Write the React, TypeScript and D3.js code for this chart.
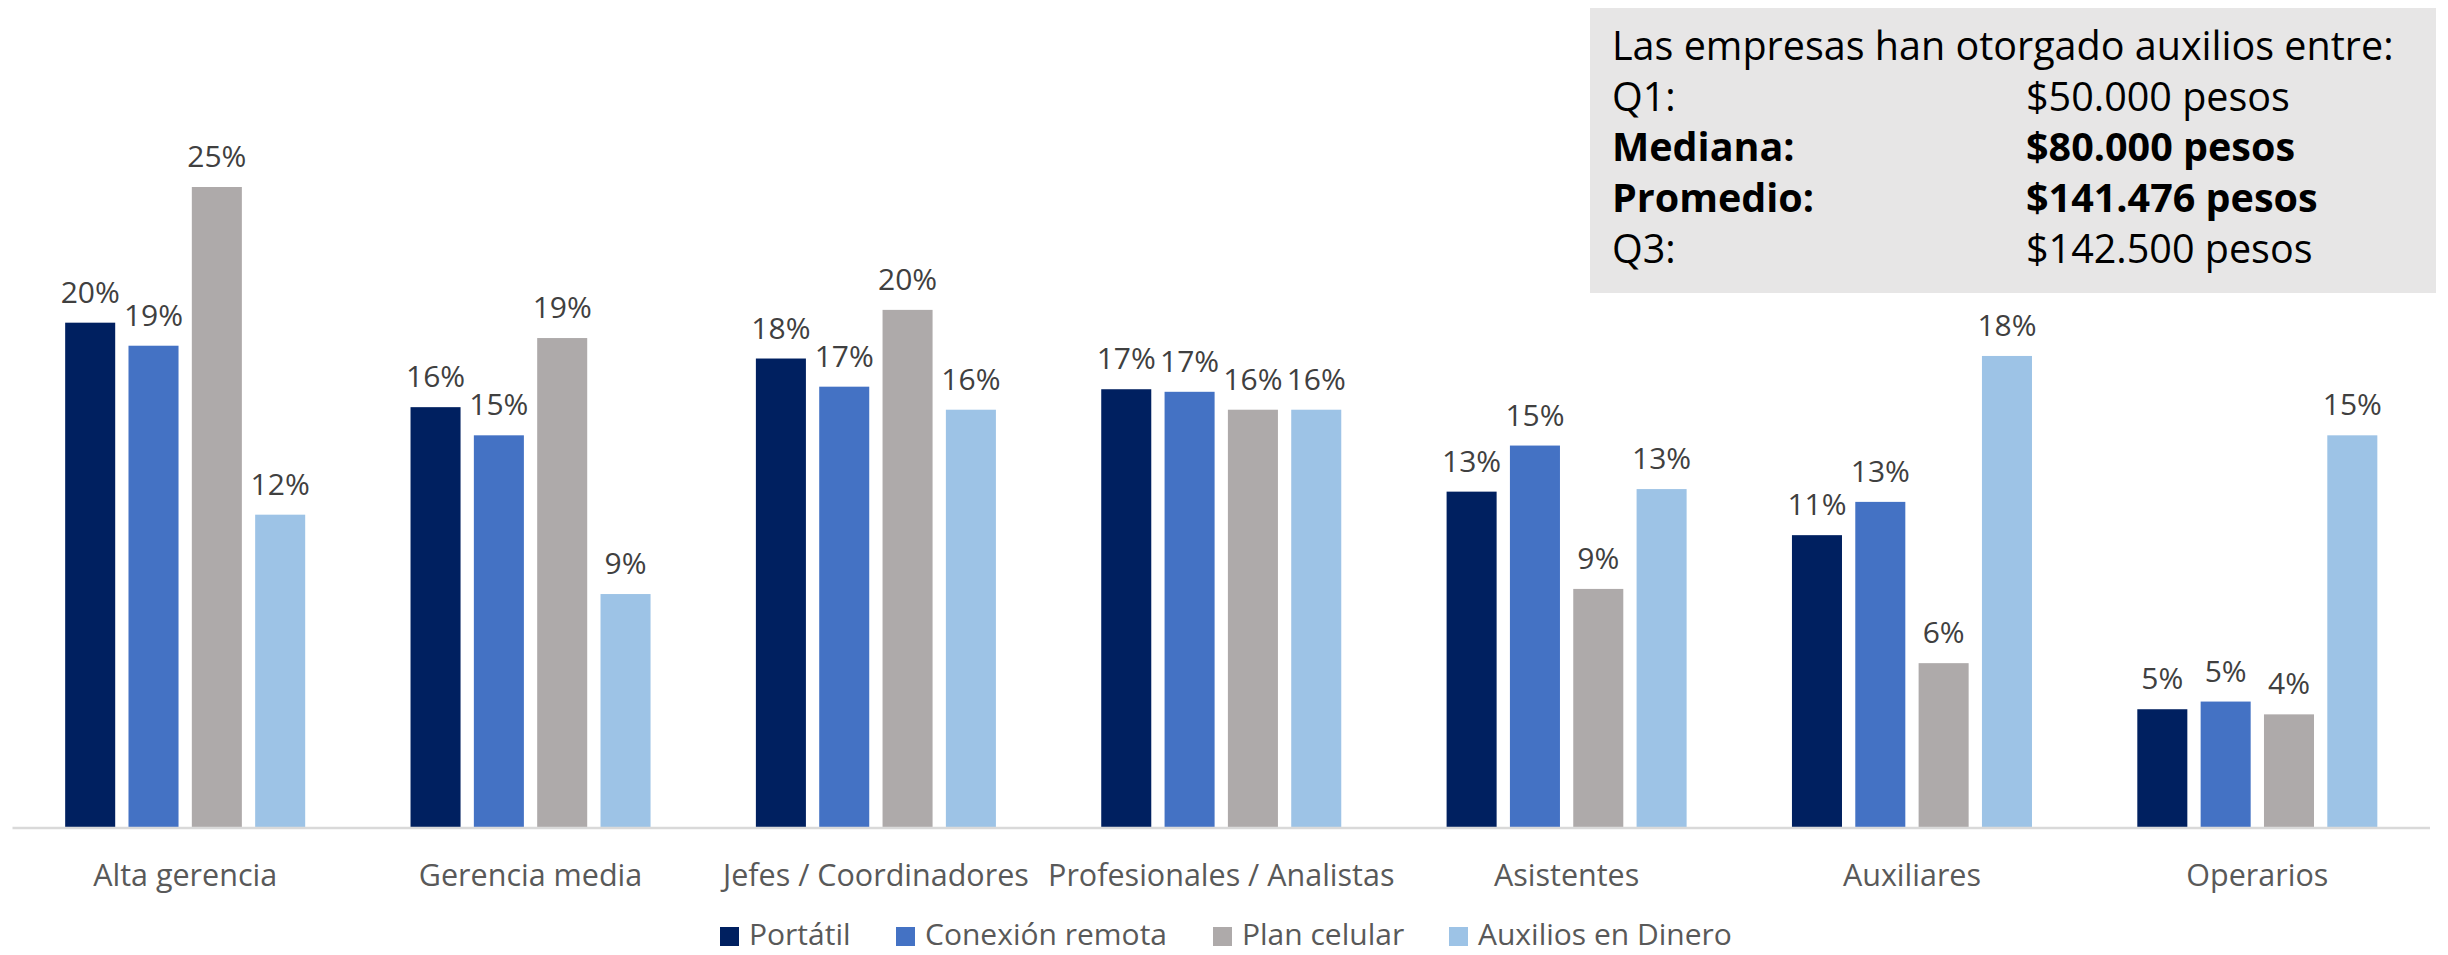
import React from "react";
import * as d3 from "d3";

const categories = [
  "Alta gerencia",
  "Gerencia media",
  "Jefes / Coordinadores",
  "Profesionales / Analistas",
  "Asistentes",
  "Auxiliares",
  "Operarios",
];
const seriesNames = ["Portátil", "Conexión remota", "Plan celular", "Auxilios en Dinero"];
const portatil = [0.197, 0.164, 0.183, 0.171, 0.131, 0.114, 0.046];
const conexion = [0.188, 0.153, 0.172, 0.170, 0.149, 0.127, 0.049];
const planCelular = [0.25, 0.191, 0.202, 0.163, 0.093, 0.064, 0.044];
const auxiliosDinero = [0.122, 0.091, 0.163, 0.163, 0.132, 0.184, 0.153];
const seriesColors = ["#002060", "#4472C4", "#AEAAAA", "#9DC3E6"];

const boxLines = [
  { label: "Las empresas han otorgado auxilios entre:", value: "", bold: false },
  { label: "Q1:", value: "$50.000 pesos", bold: false },
  { label: "Mediana:", value: "$80.000 pesos", bold: true },
  { label: "Promedio:", value: "$141.476 pesos", bold: true },
  { label: "Q3:", value: "$142.500 pesos", bold: false },
];

const W = 2448;
const H = 955;
const FONT = "'Open Sans', 'Noto Sans', sans-serif";

export default function App() {
  const allSeries = [portatil, conexion, planCelular, auxiliosDinero];
  const x0 = d3.scaleBand<string>().domain(categories).range([12.5, 2430]).paddingInner(0.305).paddingOuter(0.1525);
  const x1 = d3.scaleBand<string>().domain(seriesNames).range([0, x0.bandwidth()]).paddingInner(0.21).paddingOuter(0);
  const y = d3.scaleLinear().domain([0, 0.3]).range([827, 59]);
  const fmt = (v: number) => `${Math.round(v * 100)}%`;

  const legendX = [720, 896, 1213, 1449];

  return (
    <svg width={W} height={H} style={{ position: "absolute", left: 0, top: 0, background: "#fff" }} fontFamily={FONT}>
      {categories.map((c, ci) => (
        <g key={c} transform={`translate(${x0(c)},0)`}>
          {seriesNames.map((s, si) => {
            const v = allSeries[si][ci];
            const bx = x1(s)!;
            return (
              <g key={s}>
                <rect x={bx} y={y(v)} width={x1.bandwidth()} height={y(0) - y(v)} fill={seriesColors[si]} />
                <text
                  x={bx + x1.bandwidth() / 2}
                  y={y(v) - 20}
                  textAnchor="middle"
                  fontSize={30}
                  fill="#404040"
                >
                  {fmt(v)}
                </text>
              </g>
            );
          })}
          <text x={x0.bandwidth() / 2} y={886} textAnchor="middle" fontSize={30.5} fill="#595959">
            {c}
          </text>
        </g>
      ))}
      <line x1={12.5} x2={2430} y1={y(0) + 1} y2={y(0) + 1} stroke="#D9D9D9" strokeWidth={2.5} />

      {seriesNames.map((s, si) => (
        <g key={s} transform={`translate(${legendX[si]},0)`}>
          <rect x={0} y={927} width={19} height={19} fill={seriesColors[si]} />
          <text x={29} y={945} fontSize={30} fill="#595959">
            {s}
          </text>
        </g>
      ))}

      <rect x={1590} y={8} width={846} height={285} fill="#E7E6E6" />
      {boxLines.map((l, i) => (
        <g key={i} fontWeight={l.bold ? 700 : 400} fontSize={39.5} fill="#000">
          <text x={1612} y={60 + i * 50.7}>{l.label}</text>
          {l.value && <text x={2026} y={60 + i * 50.7}>{l.value}</text>}
        </g>
      ))}
    </svg>
  );
}
